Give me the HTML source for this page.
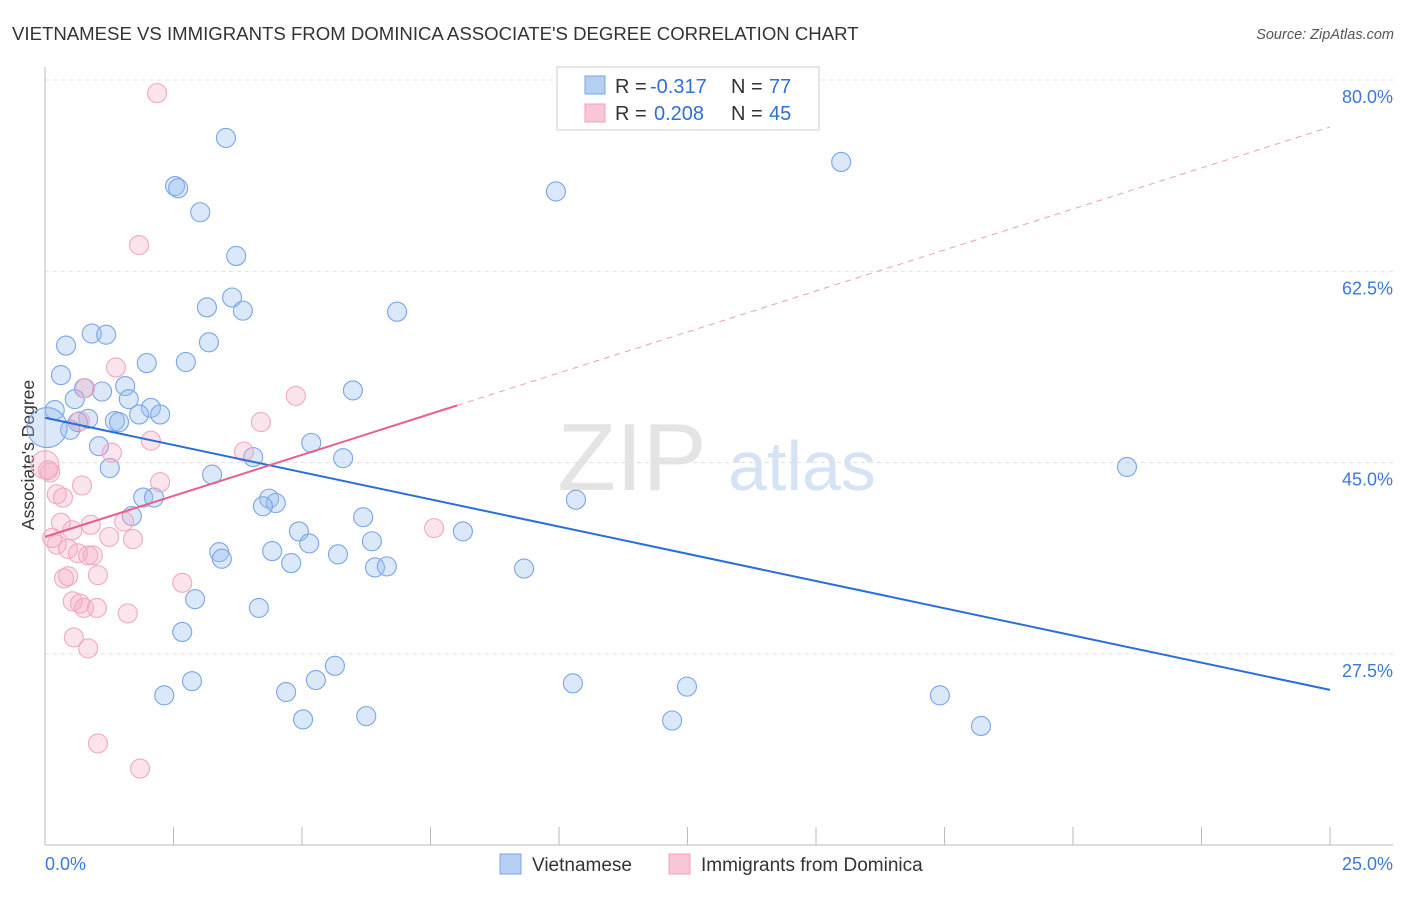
<!DOCTYPE html>
<html><head><meta charset="utf-8"><style>
body{margin:0;background:#fff;font-family:"Liberation Sans",sans-serif}
svg text{font-family:"Liberation Sans",sans-serif}
</style></head><body>
<svg id="c" width="1406" height="892">
<text x="12" y="40" font-size="18.6" fill="#333">VIETNAMESE VS IMMIGRANTS FROM DOMINICA ASSOCIATE'S DEGREE CORRELATION CHART</text>
<text x="1394" y="39" font-size="14.5" fill="#555" font-style="italic" text-anchor="end">Source: ZipAtlas.com</text>
<text x="632" y="490" font-size="96" fill="#e4e4e4" font-family="Liberation Serif" text-anchor="middle">ZIP</text>
<text x="802" y="490" font-size="70" fill="#d6e3f5" text-anchor="middle">atlas</text>
<text transform="translate(34,455) rotate(-90)" font-size="17.5" fill="#333" text-anchor="middle">Associate's Degree</text>
<g id="grid"></g><g id="marks"></g><g id="lines"></g>
<rect x="557" y="67" width="262" height="63" fill="#fff" stroke="#ccc"/>
<rect x="585" y="76" width="20" height="18" fill="#b5cff2" stroke="#7aa5e6"/>
<rect x="585" y="104" width="20" height="18" fill="#f8c6d6" stroke="#f0a0b8"/>
<g font-size="20" fill="#333">
<text x="615" y="93">R =</text><text x="650" y="93" fill="#2f6fd6">-0.317</text><text x="731" y="93">N =</text><text x="769" y="93" fill="#2f6fd6">77</text></g>
<g font-size="20" fill="#333">
<text x="615" y="120">R =</text><text x="654" y="120" fill="#2f6fd6">0.208</text><text x="731" y="120">N =</text><text x="769" y="120" fill="#2f6fd6">45</text></g>
<text x="45" y="870" font-size="18" fill="#3b78d8">0.0%</text>
<text x="1393" y="870" font-size="18" fill="#3b78d8" text-anchor="end">25.0%</text>
<rect x="500" y="854" width="21" height="20" fill="#b5cff2" stroke="#7aa5e6"/>
<text x="532" y="871" font-size="19" fill="#333">Vietnamese</text>
<rect x="669" y="854" width="21" height="20" fill="#f8c6d6" stroke="#f0a0b8"/>
<text x="701" y="871" font-size="19" fill="#333">Immigrants from Dominica</text>
</svg>
<script>
const yTicks=[80,62.5,45,27.5];
const yTickLabels=["80.0%","62.5%","45.0%","27.5%"];
const xTicks=[0,2.5,5,7.5,10,12.5,15,17.5,20,22.5,25];
const blueX=[3.52,2.53,2.59,3.02,3.72,9.94,15.49,3.15,3.64,3.85,6.85,0.91,1.19,0.41,3.19,1.98,2.74,0.31,1.56,0.76,1.11,5.99,0.58,1.63,0.19,2.06,1.83,2.24,0.84,1.36,1.44,0.64,0.49,0.04,5.18,1.05,4.05,5.80,1.26,3.25,21.05,1.91,2.12,4.36,4.49,4.24,10.33,1.69,6.19,4.94,8.13,6.36,3.39,4.42,5.14,3.44,5.70,4.79,6.42,6.65,9.32,2.92,4.16,2.67,5.64,5.27,2.86,10.27,12.49,4.69,2.32,17.41,5.02,6.25,12.20,18.21];
const blueY=[74.7,70.3,70.1,67.9,63.9,69.8,72.5,59.2,60.1,58.9,58.8,56.8,56.7,55.7,56.0,54.1,54.2,53.0,52.0,51.8,51.5,51.6,50.8,50.8,49.8,50.0,49.4,49.4,49.0,48.8,48.7,48.7,48.0,48.2,46.8,46.5,45.5,45.4,44.5,43.9,44.6,41.8,41.8,41.7,41.3,41.0,41.6,40.1,40.0,38.7,38.7,37.8,36.8,36.9,37.6,36.2,36.6,35.8,35.4,35.5,35.3,32.5,31.7,29.5,26.4,25.1,25.0,24.8,24.5,24.0,23.7,23.7,21.5,21.8,21.4,20.9];
const pinkX=[2.18,1.83,1.38,0.78,4.88,0.68,4.20,2.06,3.87,1.30,0,0.10,0.72,2.24,0.35,0.23,7.57,0.31,0.89,1.54,0.53,1.71,1.25,0.23,0.45,0.64,0.93,0.84,0.37,0.45,1.03,2.67,0.54,0.68,0.76,1.01,1.61,0.56,0.84,1.03,1.85,0.06,0.14];
const pinkY=[78.8,64.9,53.7,51.8,51.1,48.8,48.7,47.0,46.0,45.9,44.8,44.1,42.9,43.2,41.8,42.1,39.0,39.5,39.3,39.6,38.8,38.0,38.2,37.5,37.1,36.7,36.5,36.5,34.4,34.6,34.7,34.0,32.3,32.1,31.7,31.7,31.2,29.0,28.0,19.3,17.0,44.3,38.1];
const blueTrend=[49.1,24.2];
const pinkTrend=[38.2,75.7];
const pinkSolidEnd=8.02;
const X=v=>45+v*51.4, Y=v=>80+(80-v)*10.93;
const NS="http://www.w3.org/2000/svg";
function mk(t,a,p){const e=document.createElementNS(NS,t);for(const k in a)e.setAttribute(k,a[k]);p.appendChild(e);return e;}
const grid=document.getElementById('grid'),marks=document.getElementById('marks'),lines=document.getElementById('lines');
yTicks.forEach((v,i)=>{
 const l=mk('line',{x1:45,x2:1393,y1:Y(v),y2:Y(v),stroke:'#e0e0e0','stroke-dasharray':'4,4'},grid);
 
 
 const t=mk('text',{x:1393,y:Y(v)+23,'font-size':18,fill:'#3b78d8','text-anchor':'end'},grid);
 t.textContent=yTickLabels[i];
 
 
});
const ax=mk('line',{x1:45,x2:1393,y1:845,y2:845,stroke:'#bbb'},grid);


const ay=mk('line',{x1:45,x2:45,y1:67,y2:845,stroke:'#bbb'},grid);


xTicks.forEach(v=>{
 const l=mk('line',{x1:X(v),x2:X(v),y1:827,y2:845,stroke:'#bbb'},grid);
 
 
});
blueX.forEach((v,i)=>{
 const c=mk('circle',{cx:X(v),cy:Y(blueY[i]),r:i==33?20:9.5,fill:'rgba(150,188,238,0.35)',stroke:'#79a6e6','stroke-width':1.1},marks);
 
 
});
pinkX.forEach((v,i)=>{
 const c=mk('circle',{cx:X(v),cy:Y(pinkY[i]),r:i==10?14:9.5,fill:'rgba(246,172,196,0.32)',stroke:'#f2a8c0','stroke-width':1.1},marks);
 
 
});
const bl=mk('line',{x1:X(0),y1:Y(blueTrend[0]),x2:X(25),y2:Y(blueTrend[1]),stroke:'#2a6fd8','stroke-width':2},lines);


const py=v=>pinkTrend[0]+(pinkTrend[1]-pinkTrend[0])*v/25;
const ps=mk('line',{x1:X(0),y1:Y(py(0)),x2:X(pinkSolidEnd),y2:Y(py(pinkSolidEnd)),stroke:'#e8608c','stroke-width':2},lines);


const pd=mk('line',{x1:X(pinkSolidEnd),y1:Y(py(pinkSolidEnd)),x2:X(25),y2:Y(py(25)),stroke:'#eba0b8','stroke-width':1,'stroke-dasharray':'6,5'},lines);


</script>
</body></html>
